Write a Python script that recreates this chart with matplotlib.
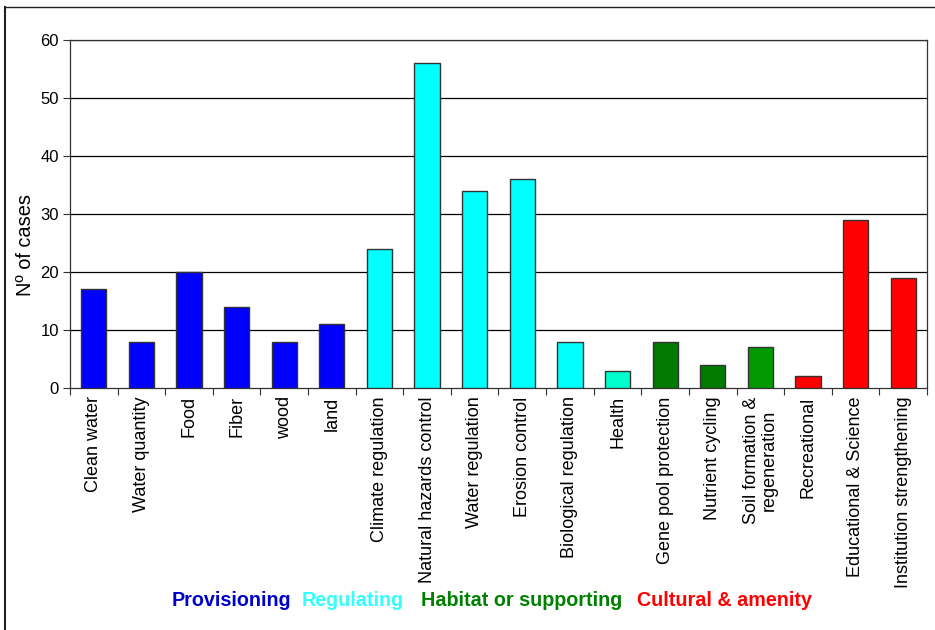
import matplotlib
matplotlib.use("Agg")
import matplotlib.pyplot as plt
from matplotlib.lines import Line2D

categories = ["Clean water", "Water quantity", "Food", "Fiber", "wood", "land",
              "Climate regulation", "Natural hazards control", "Water regulation",
              "Erosion control", "Biological regulation", "Health",
              "Gene pool protection", "Nutrient cycling", "Soil formation &\nregeneration",
              "Recreational", "Educational & Science", "Institution strengthening"]
values = [17, 8, 20, 14, 8, 11, 24, 56, 34, 36, 8, 3, 8, 4, 7, 2, 29, 19]
bar_colors = ["#0000FF"] * 6 + ["#00FFFF"] * 5 + ["#00FFCC"] + ["#007A00", "#007A00", "#009900"] + ["#FF0000"] * 3
yticks = [0, 10, 20, 30, 40, 50, 60]
groups = ["Provisioning", "Regulating", "Habitat or supporting", "Cultural & amenity"]
group_colors = ["#0000CC", "#33FFFF", "#008000", "#FF0000"]

plt.rcParams['font.family'] = ['Liberation Sans', 'DejaVu Sans']

fig = plt.figure(figsize=(9.35, 6.3), dpi=100)
W, H = 935, 630
ax = fig.add_axes([70 / W, 1 - 388 / H, (927 - 70) / W, (388 - 40) / H])

x = list(range(len(categories)))
ax.bar(x, values, width=0.53, color=bar_colors, edgecolor="#333333", linewidth=1.0, zorder=3)
ax.set_xlim(-0.5, len(categories) - 0.5)
ax.set_ylim(0, 60)
ax.set_yticks(yticks)
ax.set_yticklabels([str(v) for v in yticks], fontsize=12)
for v in yticks[1:]:
    ax.axhline(v, color="black", linewidth=0.9, zorder=1)

ax.set_xticks([i - 0.5 for i in range(len(categories) + 1)], minor=False)
ax.set_xticklabels([""] * (len(categories) + 1))
ax.set_xticks(x, minor=True)
ax.set_xticklabels(categories, minor=True, rotation=90, fontsize=13, va="top", ha="center",
                   linespacing=1.0)
ax.tick_params(axis="x", which="minor", length=0, pad=6)
ax.tick_params(axis="x", which="major", length=5, direction="out", color="#333333")
ax.tick_params(axis="y", length=5, direction="out", color="#333333", pad=3)
for s in ax.spines.values():
    s.set_color("#333333")
    s.set_linewidth(0.9)
ax.set_ylabel("Nº of cases", fontsize=14.4)
ax.yaxis.set_label_coords(-0.041, 0.41)

# legend-like colored words
xs = [172, 302, 421, 637]
for g, c, xp in zip(groups, group_colors, xs):
    fig.text(xp / W, 1 - 601 / H, g, color=c, fontsize=14.2, fontweight="bold", va="center", ha="left")

# outer frame lines (left and top)
fig.add_artist(Line2D([5 / W, 5 / W], [0, 1 - 7 / H], transform=fig.transFigure, color="#222222", linewidth=1.5))
fig.add_artist(Line2D([5 / W, 1], [1 - 7 / H, 1 - 7 / H], transform=fig.transFigure, color="#222222", linewidth=1.0))

fig.savefig("out.png", dpi=100)
